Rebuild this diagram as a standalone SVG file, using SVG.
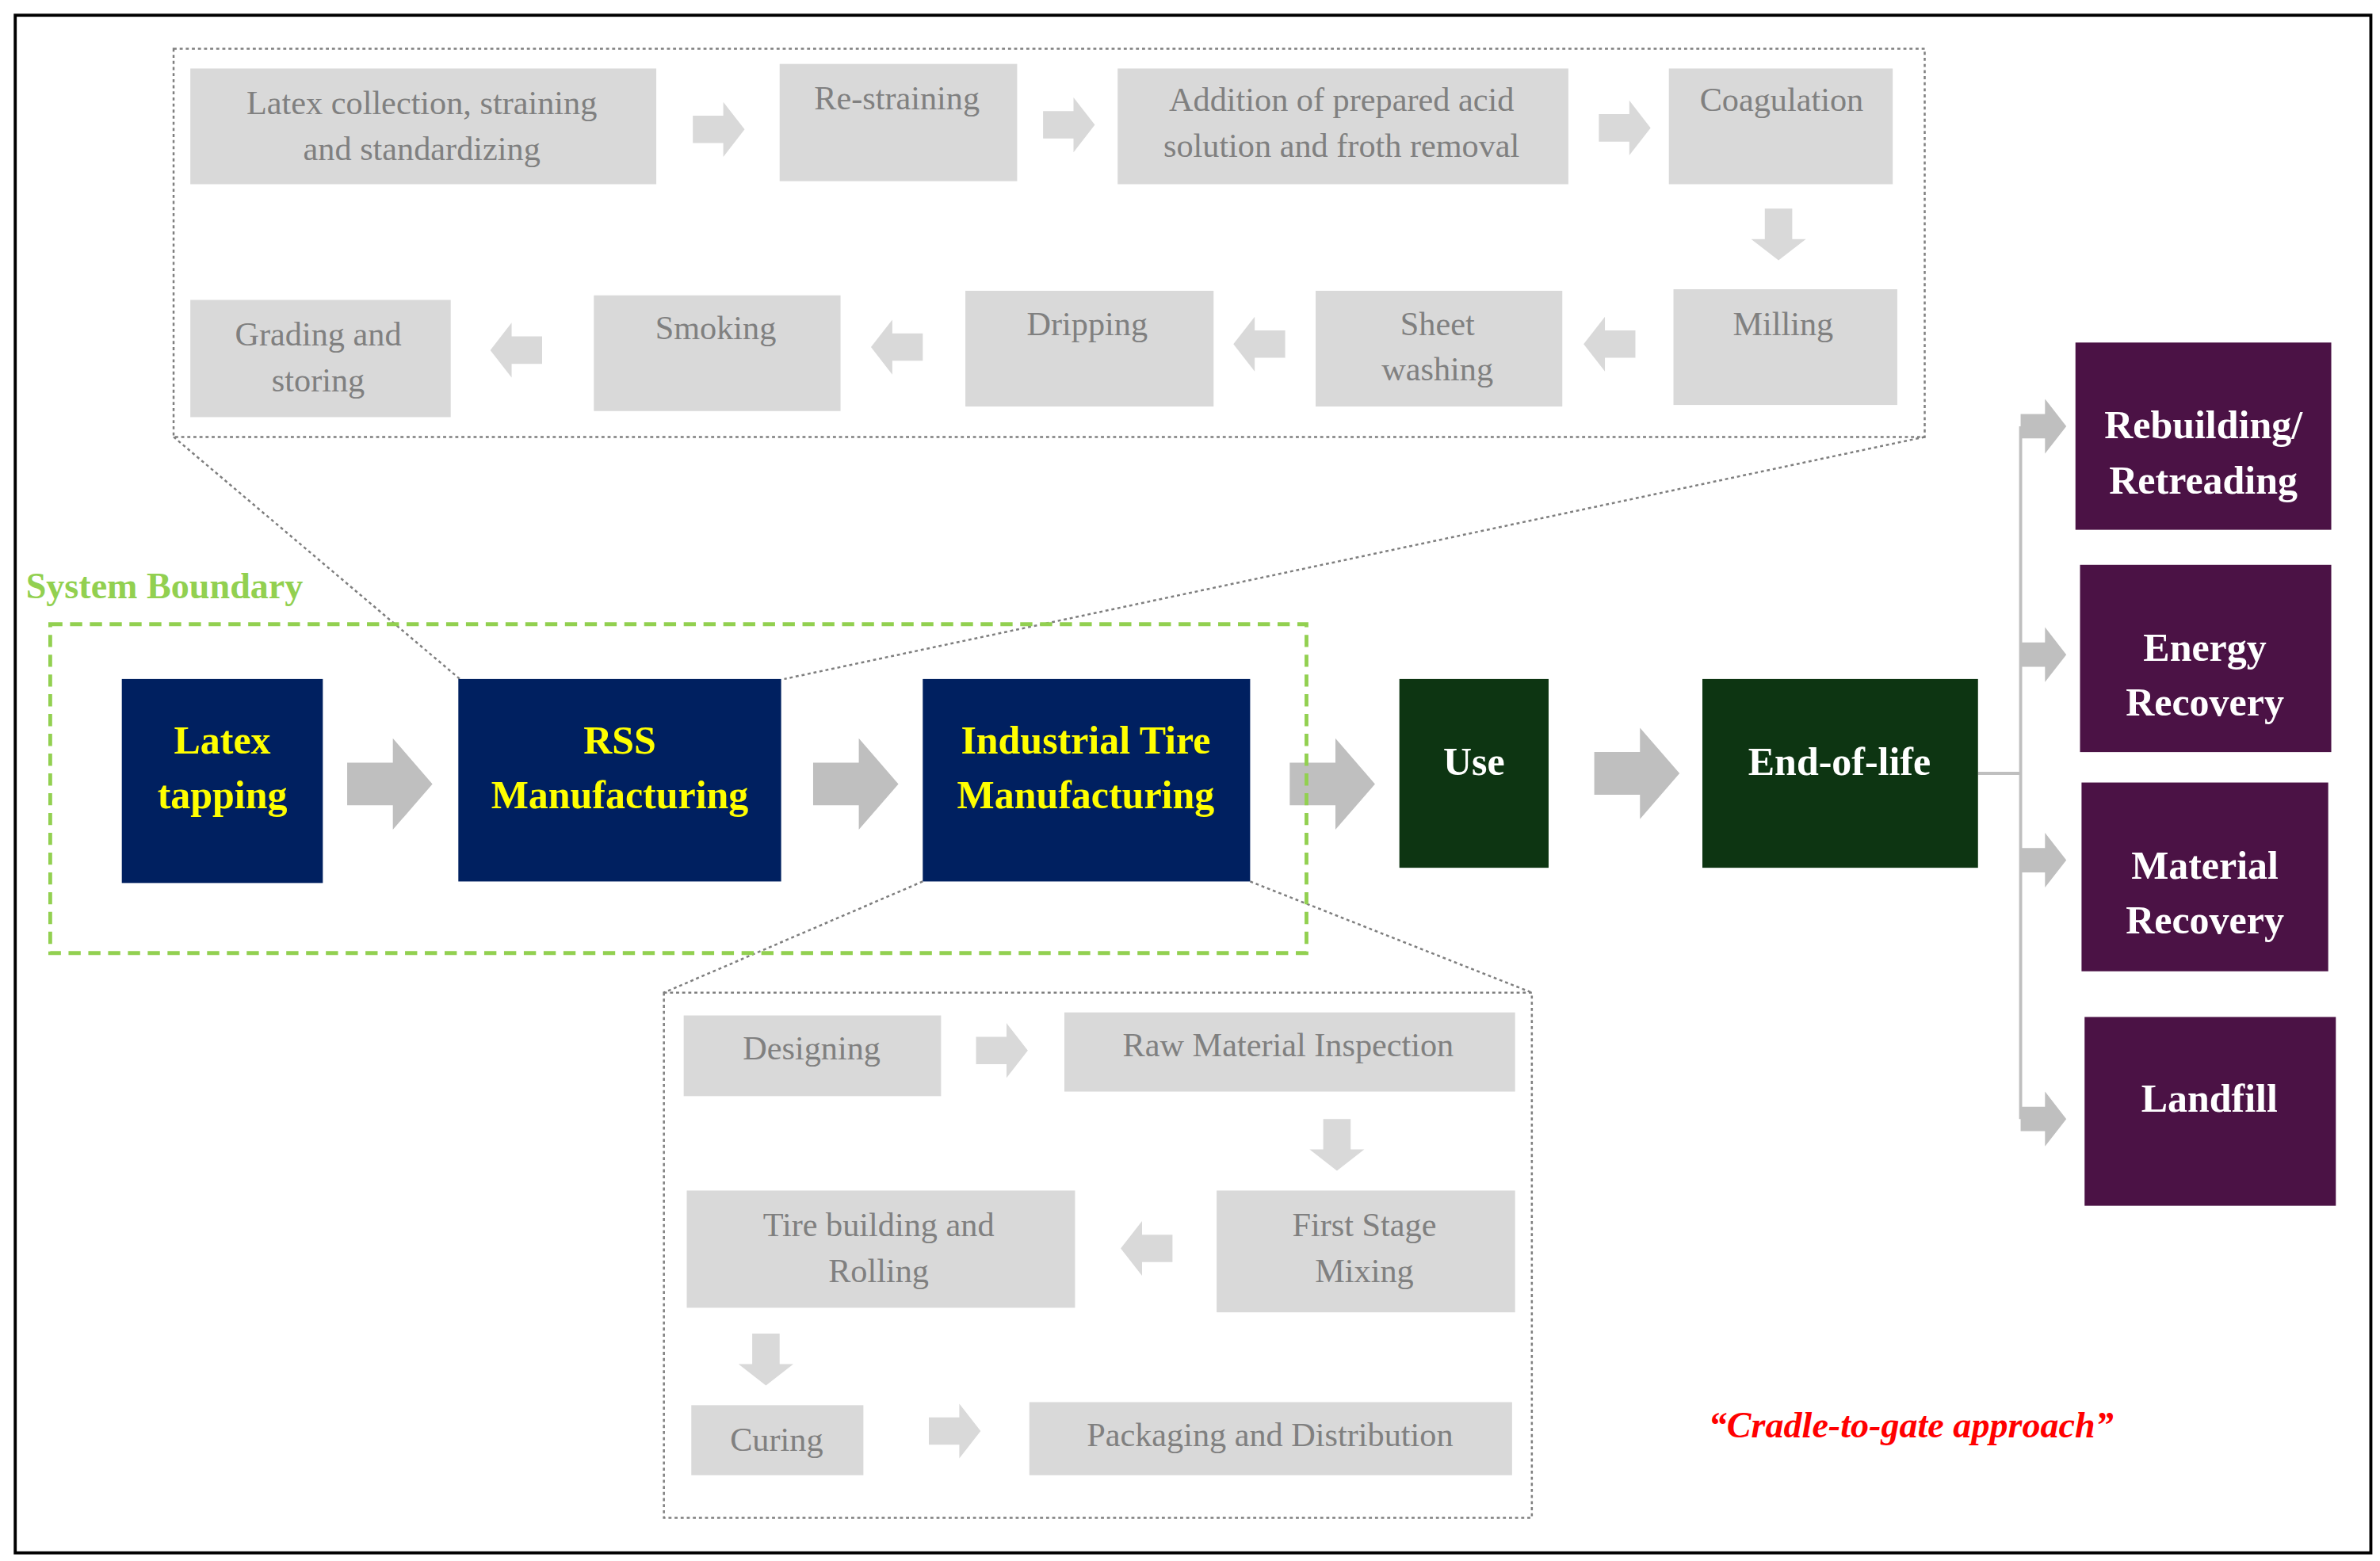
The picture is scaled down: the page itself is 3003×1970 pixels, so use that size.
<svg xmlns="http://www.w3.org/2000/svg" xmlns:xlink="http://www.w3.org/1999/xlink" width="3003" height="1970" viewBox="0 0 3003 1970">
<defs>
<style>
.g{fill:#d9d9d9}
.gt{fill:#808080;font-family:"Liberation Serif",serif;font-size:22px;text-anchor:middle}
.bt{fill:#ffff00;font-family:"Liberation Serif",serif;font-size:26px;font-weight:bold;text-anchor:middle}
.wt{fill:#ffffff;font-family:"Liberation Serif",serif;font-size:26px;font-weight:bold;text-anchor:middle}
.navy{fill:#002060}
.dg{fill:#0d3512}
.pu{fill:#4b1245}
.dot{fill:none;stroke:#7f7f7f;stroke-width:1.3;stroke-dasharray:2 2}
</style>
<path id="sa" d="M-17,-9H3V-18L17,0L3,18V9H-17Z" fill="#d9d9d9"/>
<path id="ba" d="M-28,-14H2V-30L28,0L2,30V14H-28Z" fill="#bfbfbf"/>
<path id="ma" d="M-15,-8H1V-18L15,0L1,18V8H-15Z" fill="#bfbfbf"/>
</defs>
<rect width="3003" height="1970" fill="#fff"/>
<g transform="scale(1.9213)">
<rect x="10" y="10" width="1547" height="1010" fill="none" stroke="#000" stroke-width="2"/>
<g id="connectors">
<rect class="dot" x="114" y="32" width="1150" height="255"/>
<line class="dot" x1="114" y1="287" x2="302" y2="446"/>
<line class="dot" x1="1264" y1="287" x2="515" y2="446"/>
<rect class="dot" x="436" y="652" width="570" height="345"/>
<line class="dot" x1="606" y1="579" x2="436" y2="652"/>
<line class="dot" x1="821" y1="579" x2="1006" y2="652"/>
<use href="#sa" x="472" y="85"/>
<use href="#sa" x="702" y="82"/>
<use href="#sa" x="1067" y="84"/>
<use href="#sa" transform="translate(1168,154) rotate(90)"/>
<use href="#sa" transform="translate(1057,226) rotate(180)"/>
<use href="#sa" transform="translate(827,226) rotate(180)"/>
<use href="#sa" transform="translate(589,228) rotate(180)"/>
<use href="#sa" transform="translate(339,230) rotate(180)"/>
<use href="#ba" x="256" y="515"/>
<use href="#ba" x="562" y="515"/>
<use href="#ba" x="875" y="515"/>
<use href="#ba" x="1075" y="508"/>
<path d="M1299,508H1327M1327,280V735" fill="none" stroke="#bfbfbf" stroke-width="2"/>
<use href="#ma" x="1342" y="280"/>
<use href="#ma" x="1342" y="430"/>
<use href="#ma" x="1342" y="565"/>
<use href="#ma" x="1342" y="735"/>
<use href="#sa" x="658" y="690"/>
<use href="#sa" transform="translate(878,752) rotate(90)"/>
<use href="#sa" transform="translate(753,820) rotate(180)"/>
<use href="#sa" transform="translate(503,893) rotate(90)"/>
<use href="#sa" x="627" y="940"/>
</g>
<g id="n1"><rect class="g" x="125" y="45" width="306" height="76"/><text class="gt" x="277" y="75">Latex collection, straining</text><text class="gt" x="277" y="105">and standardizing</text></g>
<g id="n2"><rect class="g" x="512" y="42" width="156" height="77"/><text class="gt" x="589" y="72">Re-straining</text></g>
<g id="n3"><rect class="g" x="734" y="45" width="296" height="76"/><text class="gt" x="881" y="73">Addition of prepared acid</text><text class="gt" x="881" y="103">solution and froth removal</text></g>
<g id="n4"><rect class="g" x="1096" y="45" width="147" height="76"/><text class="gt" x="1170" y="73">Coagulation</text></g>
<g id="n5"><rect class="g" x="1099" y="190" width="147" height="76"/><text class="gt" x="1171" y="220">Milling</text></g>
<g id="n6"><rect class="g" x="864" y="191" width="162" height="76"/><text class="gt" x="944" y="220">Sheet</text><text class="gt" x="944" y="250">washing</text></g>
<g id="n7"><rect class="g" x="634" y="191" width="163" height="76"/><text class="gt" x="714" y="220">Dripping</text></g>
<g id="n8"><rect class="g" x="390" y="194" width="162" height="76"/><text class="gt" x="470" y="223">Smoking</text></g>
<g id="n9"><rect class="g" x="125" y="197" width="171" height="77"/><text class="gt" x="209" y="227">Grading and</text><text class="gt" x="209" y="257">storing</text></g>
<g id="boundary">
<text x="17" y="393" fill="#92d050" font-family="Liberation Serif,serif" font-size="24" font-weight="bold">System Boundary</text>
<rect x="33" y="410" width="825" height="216" fill="none" stroke="#92d050" stroke-width="2.5" stroke-dasharray="8 5"/>
</g>
<g id="latex"><rect class="navy" x="80" y="446" width="132" height="134"/><text class="bt" x="146" y="495">Latex</text><text class="bt" x="146" y="531">tapping</text></g>
<g id="rss"><rect class="navy" x="301" y="446" width="212" height="133"/><text class="bt" x="407" y="495">RSS</text><text class="bt" x="407" y="531">Manufacturing</text></g>
<g id="tire"><rect class="navy" x="606" y="446" width="215" height="133"/><text class="bt" x="713" y="495">Industrial Tire</text><text class="bt" x="713" y="531">Manufacturing</text></g>
<g id="use"><rect class="dg" x="919" y="446" width="98" height="124"/><text class="wt" x="968" y="509">Use</text></g>
<g id="eol"><rect class="dg" x="1118" y="446" width="181" height="124"/><text class="wt" x="1208" y="509">End-of-life</text></g>
<g id="rebuild"><rect class="pu" x="1363" y="225" width="168" height="123"/><text class="wt" x="1447" y="288">Rebuilding/</text><text class="wt" x="1447" y="324">Retreading</text></g>
<g id="energy"><rect class="pu" x="1366" y="371" width="165" height="123"/><text class="wt" x="1448" y="434">Energy</text><text class="wt" x="1448" y="470">Recovery</text></g>
<g id="material"><rect class="pu" x="1367" y="514" width="162" height="124"/><text class="wt" x="1448" y="577">Material</text><text class="wt" x="1448" y="613">Recovery</text></g>
<g id="landfill"><rect class="pu" x="1369" y="668" width="165" height="124"/><text class="wt" x="1451" y="730">Landfill</text></g>
<g id="b1"><rect class="g" x="449" y="667" width="169" height="53"/><text class="gt" x="533" y="696">Designing</text></g>
<g id="b2"><rect class="g" x="699" y="665" width="296" height="52"/><text class="gt" x="846" y="694">Raw Material Inspection</text></g>
<g id="b3"><rect class="g" x="799" y="782" width="196" height="80"/><text class="gt" x="896" y="812">First Stage</text><text class="gt" x="896" y="842">Mixing</text></g>
<g id="b4"><rect class="g" x="451" y="782" width="255" height="77"/><text class="gt" x="577" y="812">Tire building and</text><text class="gt" x="577" y="842">Rolling</text></g>
<g id="b5"><rect class="g" x="454" y="923" width="113" height="46"/><text class="gt" x="510" y="953">Curing</text></g>
<g id="b6"><rect class="g" x="676" y="921" width="317" height="48"/><text class="gt" x="834" y="950">Packaging and Distribution</text></g>
<text x="1255" y="944" fill="#ff0000" font-family="Liberation Serif,serif" font-size="24" font-weight="bold" font-style="italic" text-anchor="middle">“Cradle-to-gate approach”</text>
</g>
</svg>
